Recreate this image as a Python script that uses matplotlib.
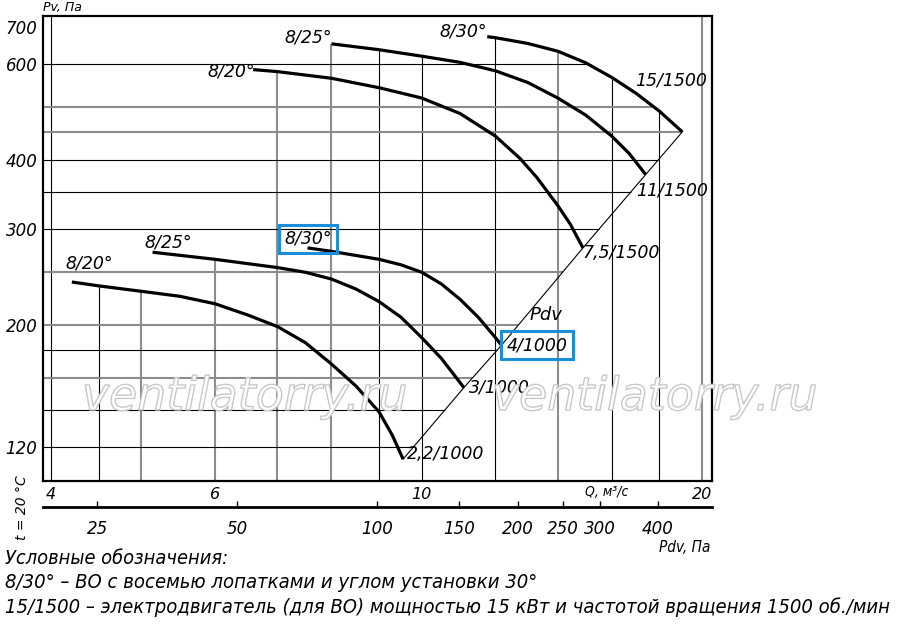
import numpy as np
import matplotlib.pyplot as plt
import matplotlib.patheffects as pe
from matplotlib import font_manager as fm

# Q, м³/с  и  Pv, Па ; 1500 об/мин
q_20_hi = [6.59, 7.0, 8.0, 9.0, 10.0, 11.0, 12.0, 12.76, 13.3, 14.0, 14.44, 14.9]
p_20_hi = [586, 581, 565, 543, 520, 487, 443, 403, 372, 331, 306, 277]
q_25_hi = [8.0, 9.0, 10.0, 11.0, 12.0, 13.0, 14.0, 15.0, 16.0, 16.7, 17.4]
p_25_hi = [653, 637, 620, 604, 583, 555, 520, 484, 443, 412, 377]
q_30_hi = [11.76, 12.0, 13.0, 14.0, 15.0, 16.0, 17.0, 18.0, 19.05]
p_30_hi = [673, 670, 654, 633, 603, 567, 530, 492, 451]
# 1000 об/мин
q_20_lo = [4.21, 4.51, 4.98, 5.5, 6.0, 6.5, 7.0, 7.5, 8.0, 8.5, 9.0, 9.3, 9.55]
p_20_lo = [240, 236, 231, 226, 219, 209, 199, 186, 170, 155, 139, 126, 114]
q_25_lo = [5.14, 6.0, 7.0, 7.5, 8.0, 8.5, 9.0, 9.5, 10.0, 10.5, 11.1]
p_25_lo = [272, 264, 255, 250, 243, 233, 221, 207, 190, 174, 154]
q_30_lo = [7.54, 8.0, 9.0, 9.5, 10.0, 10.5, 11.0, 11.5, 12.0, 12.18]
p_30_lo = [277, 273, 264, 258, 250, 238, 223, 207, 190, 184]

blade_labels = ['8/20°', '8/25°', '8/30°', '8/20°', '8/25°', '8/30°']
motor_labels = ['7,5/1500', '11/1500', '15/1500', '2,2/1000', '3/1000', '4/1000']

q_ticks = [4, 6, 10, 20]
p_ticks = [120, 200, 300, 400, 600, 700]
pdv_ticks = [25, 50, 100, 150, 200, 250, 300, 400]
q_grid = [4, 4.5, 5, 6, 7, 8, 9, 10, 12, 14, 16, 18, 20]
p_grid = [120, 140, 160, 180, 200, 250, 300, 350, 400, 450, 500, 600, 700]
C_PDV = 1.245  # Pdv = C * Q^2

curves = [(q_20_hi, p_20_hi), (q_25_hi, p_25_hi), (q_30_hi, p_30_hi),
          (q_20_lo, p_20_lo), (q_25_lo, p_25_lo), (q_30_lo, p_30_lo)]

names = {f.name for f in fm.fontManager.ttflist}
if 'Liberation Sans Narrow' in names:
    narrow = dict(family='Liberation Sans Narrow', style='italic')
else:
    narrow = dict(family='DejaVu Sans', stretch='condensed', style='italic')
ital = dict(family='DejaVu Sans', style='italic')

XMIN, XMAX = 3.92, 20.5
YMIN, YMAX = 104, 734

fig = plt.figure(figsize=(9, 6.27), dpi=100)
ax = fig.add_axes([43 / 900, 1 - 481 / 627, 669 / 900, 465 / 627])
ax.set_xscale('log')
ax.set_yscale('log')
ax.set_xlim(XMIN, XMAX)
ax.set_ylim(YMIN, YMAX)


def lg(v):
    return np.log10(np.asarray(v, dtype=float))


def top_edge(q):
    tops = [10 ** np.interp(lg(q), lg(qs), lg(ps)) for qs, ps in curves
            if qs[0] <= q <= qs[-1]]
    return max(tops) if tops else YMAX


end_q = sorted(c[0][-1] for c in curves)
end_p = sorted(c[1][-1] for c in curves)


def right_edge(p):
    cands = []
    if end_p[0] <= p <= end_p[-1]:
        cands.append(10 ** np.interp(lg(p), lg(end_p), lg(end_q)))
    for qs, ps in curves:
        if min(ps) <= p <= max(ps):
            cands.append(10 ** np.interp(lg(p), lg(ps[::-1]), lg(qs[::-1])))
    return max(cands) if cands else None


gray_q = {5, 6, 7, 8, 14, 20}
gray_p = {160, 200, 250, 450, 500}
for q in q_grid:
    st = dict(color='#8c8c8c', lw=1.5) if q in gray_q else dict(color='k', lw=0.8)
    ax.vlines(q, YMIN, top_edge(q), zorder=1, **st)
for p in p_grid:
    r = right_edge(p)
    if r is None:
        continue
    st = dict(color='#8c8c8c', lw=1.5) if p in gray_p else dict(color='k', lw=0.8)
    ax.hlines(p, XMIN, r, zorder=1, **st)

# Pdv line through the motor end points
ax.plot(end_q, end_p, color='k', lw=0.8, zorder=2)

for qs, ps in curves:
    ax.plot(qs, ps, color='k', lw=2.3, solid_capstyle='butt', solid_joinstyle='round',
            zorder=3)

blue = '#1a8ed8'
start_off = [('right', 2, -2, False), ('right', 1, 6, False), ('right', 0, 5, False),
             ('left', -6, 19, False), ('left', -8, 10, False), ('left', -23, 9, True)]
end_off = [(-1, -5, False), (-10, -16, False), (-47, 51, False),
           (4, 5, False), (5, 0, False), (5, 0, True)]
for (qs, ps), lab, (ha, dx, dy, box) in zip(curves, blade_labels, start_off):
    kw = dict(bbox=dict(boxstyle='square,pad=0.3', fc='none', ec=blue, lw=2.2)) if box else {}
    ax.annotate(lab, (qs[0], ps[0]), xytext=(dx, dy), textcoords='offset pixels',
                ha=ha, va='center', fontsize=12.5, zorder=5, **ital, **kw)
for (qs, ps), lab, (dx, dy, box) in zip(curves, motor_labels, end_off):
    kw = dict(bbox=dict(boxstyle='square,pad=0.3', fc='none', ec=blue, lw=2.2)) if box else {}
    ax.annotate(lab, (qs[-1], ps[-1]), xytext=(dx, dy), textcoords='offset pixels',
                ha='left', va='center', fontsize=12.5, zorder=5, **ital, **kw)

ax.set_xticks(q_ticks, labels=[str(v) for v in q_ticks], **ital, fontsize=11.5)
ax.set_xticks([], minor=True)
ax.set_yticks(p_ticks, labels=[str(v) for v in p_ticks], **ital, fontsize=12)
ax.set_yticks([], minor=True)
ax.tick_params(length=0, pad=4)
for s in ax.spines.values():
    s.set_linewidth(1.6)

sec = ax.secondary_xaxis(-26 / 465, functions=(lambda q: C_PDV * np.asarray(q) ** 2,
                                               lambda p: np.sqrt(np.maximum(p, 1e-9) / C_PDV)))
sec.set_xticks(pdv_ticks, labels=[str(v) for v in pdv_ticks], **ital, fontsize=12)
sec.set_xticks([], minor=True)
sec.tick_params(direction='in', length=4, width=1, pad=9)
sec.spines['bottom'].set_linewidth(2)

# watermark
for xc in (245, 655):
    fig.text(xc / 900, 1 - 410 / 627, 'ventilatorry.ru', ha='center', va='baseline',
             fontsize=33, color='white', zorder=4, **ital,
             path_effects=[pe.Stroke(linewidth=1.0, foreground='#c8c8c8')])

fig.text(43 / 900, 1 - 7 / 627, 'Pv, Па', ha='left', va='center', fontsize=9, **ital)
fig.text(546 / 900, 1 - 315 / 627, 'Pdv', ha='center', va='center', fontsize=13, **ital)
fig.text(22 / 900, 1 - 508 / 627, 't = 20 °C', rotation=90, ha='center', va='center',
         fontsize=10, **ital)
fig.text(607 / 900, 1 - 492 / 627, 'Q, м³/с', ha='center', va='center', fontsize=10, **narrow)
fig.text(710 / 900, 1 - 548 / 627, 'Pdv, Па', ha='right', va='center', fontsize=11, **narrow)
fig.text(5 / 900, 1 - 558 / 627, 'Условные обозначения:', ha='left', va='center',
         fontsize=14.3, **narrow)
fig.text(5 / 900, 1 - 583 / 627, '8/30° – ВО с восемью лопатками и углом установки 30°',
         ha='left', va='center', fontsize=14.5, **narrow)
fig.text(5 / 900, 1 - 607 / 627,
         '15/1500 – электродвигатель (для ВО) мощностью 15 кВт и частотой вращения 1500 об./мин',
         ha='left', va='center', fontsize=14.5, **narrow)

fig.savefig('out.png', dpi=100)
